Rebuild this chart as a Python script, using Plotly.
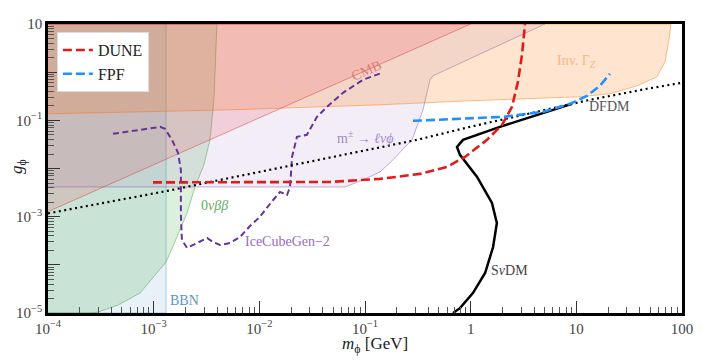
import math
import plotly.graph_objects as go

# ---- exclusion regions (m_phi in GeV, g_phi) ----
bbn_m = [1e-4, 1.31e-3, 1.31e-3, 1e-4]
bbn_g = [1e-5, 1e-5, 10, 10]

nbb_m = [1e-4, 2.39e-4, 2.97e-4, 4.59e-4, 7.42e-4, 1.31e-3, 1.66e-3, 2.07e-3,
         2.46e-3, 2.99e-3, 3.41e-3, 3.72e-3, 3.97e-3, 1e-4]
nbb_g = [1e-5, 1e-5, 1.04e-5, 1.46e-5, 2.59e-5, 1.14e-4, 3.79e-4, 1.19e-3,
         4.14e-3, 1.19e-2, 3.94e-2, 0.267, 10, 10]

meson_m = [1e-4, 6.47e-2, 9.57e-2, 0.1386, 0.1723, 0.2785, 0.3538, 0.412, 0.44, 5.05, 1e-4]
meson_g = [4.14e-3, 4.14e-3, 5.79e-3, 8.5e-3, 1.31e-2, 3.94e-2, 0.165, 0.695, 0.841, 10, 10]

invz_m = [1e-4, 5.28e-3, 0.1386, 0.985, 10.8, 20.8, 37.5, 58.0, 69.0, 75.3, 78.6, 1e-4]
invz_g = [0.1365, 0.165, 0.21, 0.254, 0.308, 0.356, 0.521, 0.80, 1.64, 4.72, 10, 10]

cmb_m = [1e-4, 1.0, 1e-4]
cmb_g = [1.27e-3, 10, 10]

# ---- projected sensitivities ----
dune_m = [9.86e-4, 8.16e-3, 4.66e-2, 0.1386, 0.331, 0.597, 0.884, 1.43, 1.98, 2.46, 2.80, 3.06, 3.27]
dune_g = [5.14e-3, 5.14e-3, 5.26e-3, 6.08e-3, 7.72e-3, 1.08e-2, 1.74e-2, 3.94e-2, 8.06e-2,
          0.191, 0.631, 2.30, 10]

fpf_m = [0.2845, 0.792, 2.02, 4.83, 8.71, 12.6, 16.7, 20.8]
fpf_g = [9.77e-2, 0.107, 0.118, 0.150, 0.220, 0.323, 0.521, 0.927]

icecube_m = [4.12e-4, 7.42e-4, 1.15e-3, 1.28e-3, 1.49e-3, 1.70e-3, 1.81e-3, 1.81e-3, 1.81e-3,
             1.85e-3, 2.07e-3, 2.57e-3, 3.20e-3, 3.64e-3, 4.24e-3, 5.28e-3, 6.56e-3, 8.16e-3,
             1.01e-2, 1.35e-2, 1.57e-2, 1.83e-2, 1.95e-2, 1.99e-2, 2.04e-2, 2.27e-2, 2.82e-2,
             3.51e-2, 4.37e-2, 6.19e-2, 9.57e-2, 0.145]
icecube_g = [5.24e-2, 6.34e-2, 7.32e-2, 6.66e-2, 3.94e-2, 2.11e-2, 9.35e-3, 2.83e-3, 1.08e-3,
             3.28e-4, 2.24e-4, 2.84e-4, 3.61e-4, 2.98e-4, 2.58e-4, 2.84e-4, 3.79e-4, 6.41e-4,
             9.86e-4, 2.22e-3, 3.26e-3, 2.83e-3, 4.14e-3, 7.36e-3, 1.74e-2, 4.54e-2, 5.0e-2,
             0.118, 0.191, 0.373, 0.695, 0.972]

# ---- relic targets ----
snudm_m = [9.09, 4.83, 1.89, 0.846, 0.742, 0.792, 1.15, 1.59, 1.77, 1.63, 1.37, 1.05, 0.792, 0.68]
snudm_g = [0.220, 0.143, 7.32e-2, 3.94e-2, 2.81e-2, 1.92e-2, 6.69e-3, 1.93e-3, 7.40e-4,
           2.34e-4, 6.76e-5, 2.59e-5, 1.26e-5, 1e-5]

dfdm_m = [1e-4, 1.34e-3, 5.28e-3, 0.3105, 0.985, 13.5, 46.6, 100]
dfdm_g = [1.17e-3, 3.42e-3, 6.38e-3, 3.94e-2, 7.32e-2, 0.267, 0.452, 0.603]

xtick_vals = [1e-4, 1e-3, 1e-2, 1e-1, 1, 10, 100]
xtick_text = ["10<sup>−4</sup>", "10<sup>−3</sup>", "10<sup>−2</sup>", "10<sup>−1</sup>", "1", "10", "100"]
ytick_vals = [1e-5, 1e-4, 1e-3, 1e-2, 1e-1, 1, 10]
ytick_text = ["10<sup>−5</sup>", " ", "10<sup>−3</sup>", " ", "10<sup>−1</sup>", " ", "10"]

FONT = "Liberation Serif"

fig = go.Figure()

def region(m, g, fill, edge):
    fig.add_trace(go.Scatter(x=m, y=g, fill="toself", fillcolor=fill, mode="lines",
                             line=dict(color=edge, width=1), showlegend=False,
                             hoverinfo="skip"))

region(bbn_m, bbn_g, "rgba(31,119,180,0.1)", "rgba(31,119,180,0.35)")
region(nbb_m, nbb_g, "rgba(44,160,44,0.16)", "rgba(44,160,44,0.45)")
region(meson_m, meson_g, "rgba(148,103,189,0.12)", "rgba(148,103,189,0.55)")
region(invz_m, invz_g, "rgba(255,127,14,0.2)", "rgba(255,127,14,0.5)")
region(cmb_m, cmb_g, "rgba(230,60,80,0.17)", "rgba(225,60,60,0.5)")

fig.add_trace(go.Scatter(x=icecube_m, y=icecube_g, mode="lines", showlegend=False,
                         line=dict(color="#663399", width=2, dash="6px,3.5px")))
fig.add_trace(go.Scatter(x=dfdm_m, y=dfdm_g, mode="lines", showlegend=False,
                         line=dict(color="black", width=2.2, dash="2px,3.5px")))
fig.add_trace(go.Scatter(x=snudm_m, y=snudm_g, mode="lines", showlegend=False,
                         line=dict(color="black", width=2.5)))
fig.add_trace(go.Scatter(x=dune_m, y=dune_g, mode="lines", name="DUNE",
                         line=dict(color="#e31a1c", width=2.6, dash="9px,4px")))
fig.add_trace(go.Scatter(x=fpf_m, y=fpf_g, mode="lines", name="FPF",
                         line=dict(color="#1e90ff", width=2.6, dash="9px,4px")))

labels = [
    (0.104, 1.07, "CMB", "rgba(225,110,110,0.9)", -24),
    (10.1, 1.64, "Inv. Γ<sub><i>Z</i></sub>", "rgba(245,185,130,1)", 0),
    (20.8, 0.191, "DFDM", "#555555", 0),
    (0.1, 4.54e-2, "m<sup>±</sup> → <i>ℓνϕ</i>", "rgba(165,140,200,1)", 0),
    (3.8e-3, 1.67e-3, "0<i>νββ</i>", "rgba(95,175,95,1)", 0),
    (1.83e-2, 2.98e-4, "IceCubeGen−2", "rgba(150,110,190,1)", 0),
    (2.35, 7.8e-5, "S<i>ν</i>DM", "#444444", 0),
    (1.94e-3, 1.85e-5, "BBN", "rgba(90,150,200,1)", 0),
]
for xm, yg, txt, col, ang in labels:
    fig.add_annotation(x=math.log10(xm), y=math.log10(yg), text=txt, showarrow=False,
                       textangle=ang, font=dict(family=FONT, size=14, color=col))

fig.add_annotation(x=0.516, y=0, xref="paper", yref="paper", yshift=-32,
                   xanchor="center", yanchor="middle",
                   text="<i>m</i><sub>ϕ</sub> [GeV]", showarrow=False,
                   font=dict(family=FONT, size=17, color="#222222"))
fig.add_annotation(x=0, y=0.505, xref="paper", yref="paper", xshift=-30,
                   xanchor="center", yanchor="middle",
                   text="<i>g</i><sub>ϕ</sub>", showarrow=False, textangle=-90,
                   font=dict(family=FONT, size=17, color="#222222"))

axis_common = dict(type="log", showgrid=False, zeroline=False, showline=True,
                   linecolor="black", linewidth=2.5, mirror=True, ticks="inside",
                   ticklen=12, tickwidth=1.3, tickcolor="#333333", automargin=False,
                   tickfont=dict(family=FONT, size=15, color="#444444"),
                   minor=dict(ticks="inside", ticklen=6, tickwidth=1, tickcolor="#555555",
                              dtick="D1", showgrid=False))

fig.update_xaxes(range=[-4, 2], tickmode="array", tickvals=xtick_vals, ticktext=xtick_text,
                 **axis_common)
fig.update_yaxes(range=[-5, 1], tickmode="array", tickvals=ytick_vals, ticktext=ytick_text,
                 **axis_common)

# the page adds an 8px body margin, so the figure is sized to fit inside it
fig.update_layout(
    template="none",
    width=698, height=354,
    margin=dict(l=40, r=24, t=16, b=49),
    paper_bgcolor="white", plot_bgcolor="white",
    font=dict(family=FONT, color="#222222"),
    legend=dict(x=0.014, y=0.972, xanchor="left", yanchor="top", bgcolor="white",
                bordercolor="#dddddd", borderwidth=1,
                font=dict(family=FONT, size=16, color="#222222"), tracegroupgap=2),
)

fig.write_html("out.html")
